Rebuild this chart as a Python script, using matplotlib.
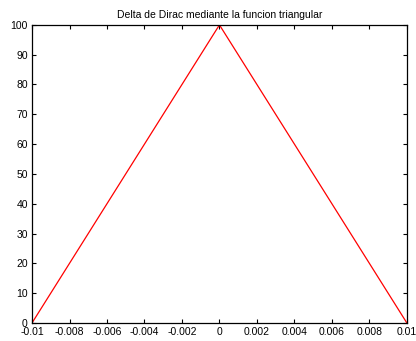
import matplotlib.pyplot as plt
import numpy as np

# triangulo: base de -0.01 a 0.01, altura 100
t = [-0.01, 0.0, 0.01]
y = [0, 100, 0]

xticks = np.arange(-0.01, 0.0101, 0.002)
xlabels = ['-0.01', '-0.008', '-0.006', '-0.004', '-0.002', '0',
           '0.002', '0.004', '0.006', '0.008', '0.01']
yticks = np.arange(0, 101, 10)

plt.rcParams['font.family'] = ['Liberation Sans', 'DejaVu Sans']

fig = plt.figure(figsize=(4.16, 3.41), dpi=100)
ax = fig.add_axes([0.077, 0.053, 0.901, 0.874])

ax.plot(t, y, 'r-', lw=0.9)
ax.axis([-0.01, 0.01, 0, 100])
ax.set_xticks(xticks)
ax.set_xticklabels(xlabels)
ax.set_yticks(yticks)
ax.tick_params(direction='in', top=True, right=True, labelsize=7.5,
               length=3, width=0.8, pad=2)
ax.tick_params(axis='x', pad=3)
ax.tick_params(axis='y', pad=3)
for s in ax.spines.values():
    s.set_linewidth(0.9)
ax.set_title('Delta de Dirac mediante la funcion triangular', fontsize=7.5, pad=5)

fig.savefig('out.png', dpi=100)
